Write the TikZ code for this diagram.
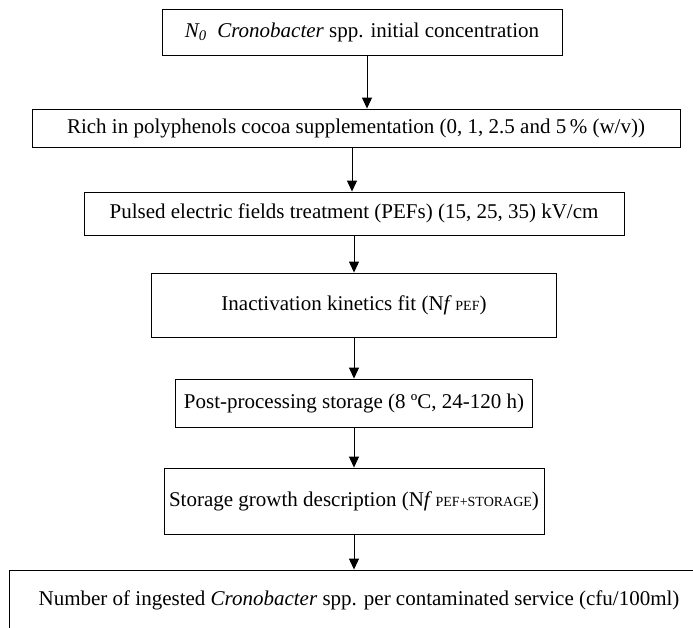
\documentclass[tikz,border=0pt]{standalone}
\usepackage{fontspec}
\setmainfont{Liberation Serif}
\usetikzlibrary{arrows.meta}
\begin{document}
\begin{tikzpicture}[x=1pt,y=-1pt,
  box/.style={draw, line width=0.9pt, inner sep=0pt, font=\fontsize{21}{25}\selectfont},
  sub/.style={font=\fontsize{14}{16}\selectfont},
  arr/.style={line width=1pt, -{Triangle[length=11pt,width=10pt]}}]
\useasboundingbox (0,0) rectangle (693,627);
\node[box, minimum width=400pt, minimum height=46pt] (b1) at (362,32) {\textit{N\textsubscript{0}}\ \ \textit{Cronobacter} spp. initial concentration};
\node[box, minimum width=648pt, minimum height=38pt] (b2) at (356,128) {Rich in polyphenols cocoa supplementation (0, 1, 2.5 and 5\,\% (w/v))};
\node[box, minimum width=540pt, minimum height=43pt] (b3) at (354,213.5) {Pulsed electric fields treatment (PEFs) (15, 25, 35) kV/cm};
\node[box, minimum width=405pt, minimum height=64pt] (b4) at (354,305) {Inactivation kinetics fit (N\textit{f}\,{\fontsize{14}{16}\selectfont PEF})};
\node[box, minimum width=357pt, minimum height=48pt] (b5) at (354,403) {Post-processing storage (8 ºC, 24-120 h)};
\node[box, minimum width=380pt, minimum height=66pt] (b6) at (354,501) {Storage growth description (N\textit{f}\,{\fontsize{14}{16}\selectfont PEF+STORAGE})};
\node[box, minimum width=700pt, minimum height=60pt] (b7) at (359,600) {Number of ingested \textit{Cronobacter} spp. per contaminated service (cfu/100ml)};
\draw[arr] (b1.south -| 367,0) -- (367,0 |- b2.north);
\draw[arr] (b2.south -| 352,0) -- (352,0 |- b3.north);
\foreach \a/\b in {b3/b4,b4/b5,b5/b6,b6/b7} \draw[arr] (\a.south -| 354,0) -- (354,0 |- \b.north);
\end{tikzpicture}
\end{document}
